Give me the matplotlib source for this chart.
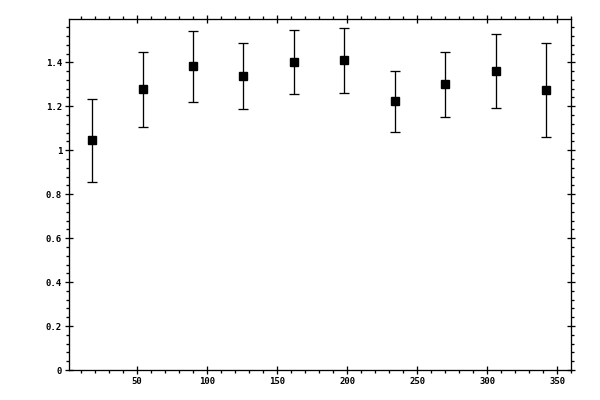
import matplotlib
matplotlib.use("Agg")
import matplotlib.pyplot as plt
from matplotlib.ticker import MultipleLocator, FormatStrFormatter

plt.rcParams['font.family'] = ['DejaVu Sans Mono']
plt.rcParams['font.weight'] = 'bold'

angle = [18, 54, 90, 126, 162, 198, 234, 270, 306, 342]
value = [1.045, 1.277, 1.382, 1.336, 1.400, 1.409, 1.222, 1.300, 1.359, 1.273]
error = [0.188, 0.172, 0.161, 0.150, 0.146, 0.149, 0.140, 0.148, 0.169, 0.214]

LW = 0.94  # axis / bar width

fig = plt.figure(figsize=(6, 4), dpi=100)
ax = fig.add_axes([0.115, 0.075, 0.837, 0.8775])

ax.errorbar(angle, value, yerr=error, fmt='s', color='k', ms=6.3,
            elinewidth=LW, capsize=3.6, capthick=LW)

ax.set_xlim(1.5, 360)
ax.set_ylim(0, 1.597)

ax.xaxis.set_major_locator(MultipleLocator(50))
ax.xaxis.set_minor_locator(MultipleLocator(10))
ax.yaxis.set_major_locator(MultipleLocator(0.2))
ax.yaxis.set_minor_locator(MultipleLocator(0.04))
ax.yaxis.set_major_formatter(FormatStrFormatter('%g'))

for s in ax.spines.values():
    s.set_linewidth(LW)

ax.tick_params(which='both', top=True, right=True, width=LW, labelsize=6.5)
ax.tick_params(which='major', direction='inout', length=6, pad=2)
ax.tick_params(which='minor', direction='out', length=2.5)

plt.savefig("out.png", dpi=100)
